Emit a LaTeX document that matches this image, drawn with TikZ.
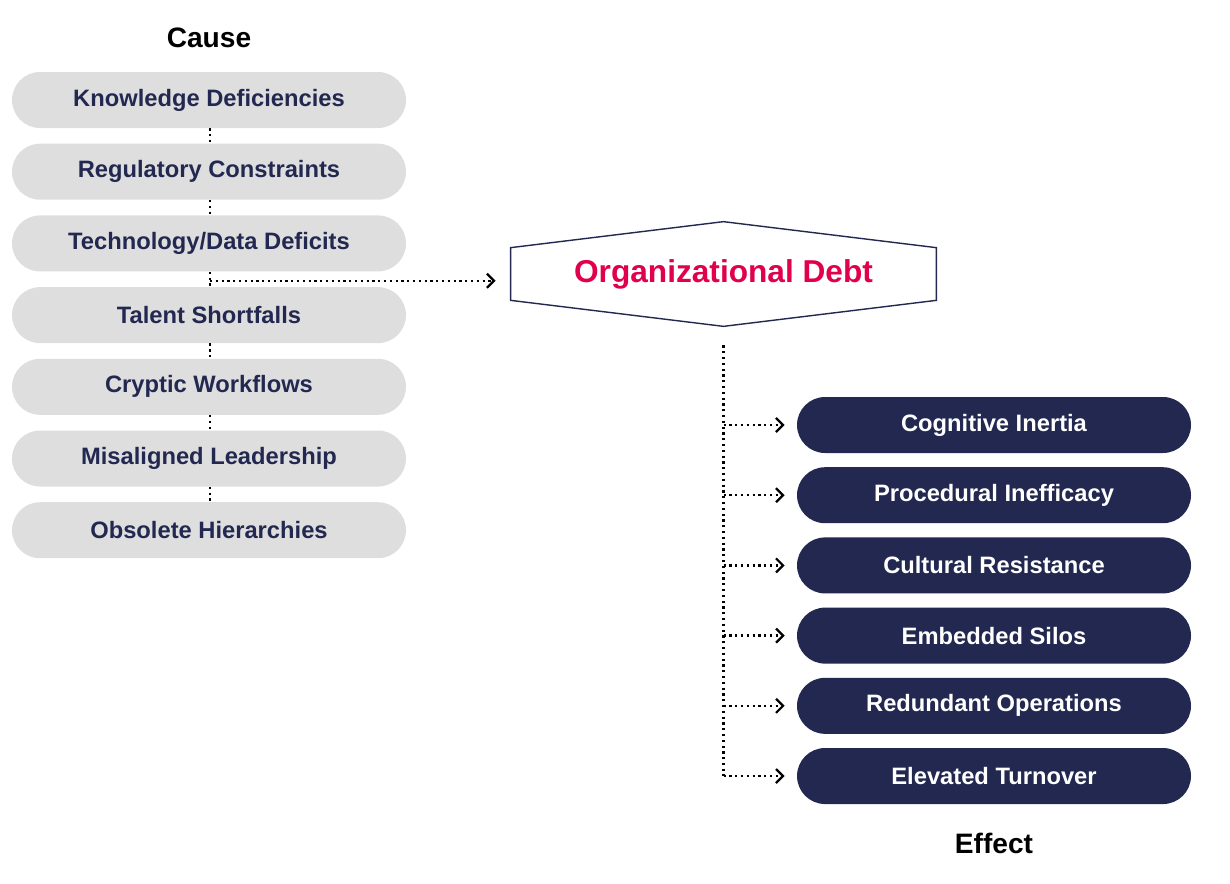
\documentclass[tikz,border=0pt]{standalone}
\usepackage{fontspec}
\setmainfont{Liberation Sans}
\usetikzlibrary{arrows.meta, positioning, calc}
\definecolor{navy}{HTML}{222850}
\definecolor{pillgray}{HTML}{DEDEDE}
\definecolor{debtred}{HTML}{E0004D}
\begin{document}
\begin{tikzpicture}[
    font=\bfseries,
    % styles
    cause/.style={
        fill=pillgray, rounded corners=0.56cm, minimum width=7.88cm, minimum height=1.12cm,
        text=navy, font=\fontsize{13.5}{16}\selectfont\bfseries
    },
    effect/.style={
        fill=navy, rounded corners=0.56cm, minimum width=7.88cm, minimum height=1.12cm,
        text=white, font=\fontsize{13.5}{16}\selectfont\bfseries
    },
    dots/.style={
        draw=black, line width=1.3pt, dotted
    },
    dot_arrow/.style={
        dots, -{Straight Barb[length=4pt, width=8pt, line width=1.3pt]}
    }
]
    \useasboundingbox (0,0) rectangle (24.6,-17.66);

    % --- causes ---
    \node[font=\fontsize{16}{19}\selectfont\bfseries] (cause_title) at (4.18,-0.76) {Cause};
    \node[cause] (knowledge) at (4.18,-2.0) {Knowledge Deficiencies};
    \node[cause, below=0.3cm of knowledge] (regulatory) {Regulatory Constraints};
    \node[cause, below=0.3cm of regulatory] (technology) {Technology/Data Deficits};
    \node[cause, below=0.3cm of technology] (talent) {Talent Shortfalls};
    \node[cause, below=0.3cm of talent] (cryptic) {Cryptic Workflows};
    \node[cause, below=0.3cm of cryptic] (misaligned) {Misaligned Leadership};
    \node[cause, below=0.3cm of misaligned] (obsolete) {Obsolete Hierarchies};

    \foreach \a/\b in {knowledge/regulatory, regulatory/technology, technology/talent,
                       talent/cryptic, cryptic/misaligned, misaligned/obsolete}
        \draw[dots] ([xshift=0.02cm]\a.south) -- ([xshift=0.02cm]\b.north);

    % --- organizational debt ---
    \node[minimum width=8.5cm, minimum height=1.04cm, text=debtred,
          font=\fontsize{18}{21}\selectfont\bfseries] (debt) at (14.47,-5.48) {Organizational Debt};
    \draw[navy, line width=0.8pt] (debt.north west) -- ($(debt.north)+(0,0.52)$) -- (debt.north east)
        -- (debt.south east) -- ($(debt.south)+(0,-0.52)$) -- (debt.south west) -- cycle;

    \coordinate (tap) at ($(technology.south)+(0.02,-0.18)$);
    \draw[dot_arrow] (tap) -- ($(debt.west |- tap)+(-0.3,0)$);

    % --- effects ---
    \node[effect] (cognitive) at (19.88,-8.5) {Cognitive Inertia};
    \node[effect, below=0.27cm of cognitive] (procedural) {Procedural Inefficacy};
    \node[effect, below=0.27cm of procedural] (cultural) {Cultural Resistance};
    \node[effect, below=0.27cm of cultural] (silos) {Embedded Silos};
    \node[effect, below=0.27cm of silos] (redundant) {Redundant Operations};
    \node[effect, below=0.27cm of redundant] (turnover) {Elevated Turnover};
    \node[font=\fontsize{16}{19}\selectfont\bfseries, below=0.45cm of turnover] (effect_title) {Effect};

    \coordinate (trunk) at ($(debt.south)+(0,-0.9)$);
    \draw[dots] (trunk) -- (trunk |- turnover.west);
    \foreach \e in {cognitive, procedural, cultural, silos, redundant, turnover}
        \draw[dot_arrow] (trunk |- \e.west) -- ([xshift=-0.24cm]\e.west);

\end{tikzpicture}
\end{document}
